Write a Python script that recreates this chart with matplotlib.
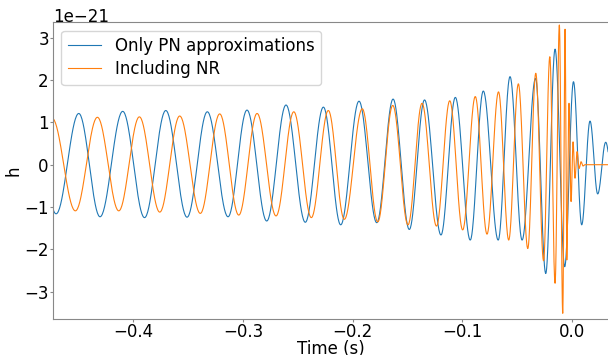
import numpy as np
import matplotlib.pyplot as plt

# extrema of each waveform (time in s, strain in units of 1e-21)
pn_t = [-0.4906, -0.4705, -0.4498, -0.4304, -0.4097, -0.3898, -0.3704, -0.3510,
        -0.3325, -0.3136, -0.2963, -0.2783, -0.2607, -0.2431, -0.2266, -0.2108,
        -0.1941, -0.1779, -0.1630, -0.1482, -0.1343, -0.1193, -0.1062, -0.0926,
        -0.0807, -0.0671, -0.0563, -0.0453, -0.0330, -0.0237, -0.0152, -0.0064,
        0.0016, 0.0091, 0.0167, 0.0237, 0.0310, 0.0377]
pn_h = [1.20, -1.16, 1.21, -1.23, 1.26, -1.25, 1.28, -1.24,
        1.25, -1.23, 1.29, -1.33, 1.41, -1.36, 1.36, -1.42,
        1.50, -1.37, 1.55, -1.53, 1.53, -1.66, 1.59, -1.78,
        1.74, -1.78, 2.08, -1.78, 2.04, -2.57, 2.73, -2.41,
        1.96, -1.42, 1.03, -0.69, 0.53, -0.40]

nr_t = [-0.4933, -0.4742, -0.4529, -0.4328, -0.4133, -0.3945, -0.3759, -0.3577,
        -0.3389, -0.3212, -0.3038, -0.2871, -0.2698, -0.2536, -0.2376, -0.2221,
        -0.2075, -0.1911, -0.1770, -0.1633, -0.1494, -0.1366, -0.1234, -0.1113,
        -0.0995, -0.0880, -0.0773, -0.0668, -0.0575, -0.0487, -0.0401, -0.0328,
        -0.0257, -0.0200, -0.0152, -0.0113, -0.0082, -0.0061, -0.0045, -0.0025,
        -0.0006, 0.0012, 0.0030, 0.0049, 0.0067, 0.0085, 0.0103, 0.0122, 0.0440]
nr_h = [-1.08, 1.10, -1.09, 1.12, -1.09, 1.13, -1.12, 1.15,
        -1.15, 1.20, -1.19, 1.21, -1.21, 1.25, -1.25, 1.28,
        -1.29, 1.32, -1.35, 1.40, -1.42, 1.45, -1.45, 1.51,
        -1.54, 1.61, -1.64, 1.72, -1.78, 1.91, -1.98, 2.16,
        -2.27, 2.55, -2.80, 3.30, -3.51, 3.20, -2.25, 1.45,
        -0.87, 0.54, -0.32, 0.31, -0.09, 0.07, -0.03, 0.0, 0.0]

scale = 1e-21


def wave(tp, hp, n=40):
    # half-cosine swing between each pair of neighbouring extrema
    ts, hs = [], []
    for i in range(len(tp) - 1):
        s = np.linspace(0, 1, n, endpoint=False)
        ts.append(tp[i] + (tp[i + 1] - tp[i]) * s)
        hs.append((hp[i] + hp[i + 1]) / 2 + (hp[i] - hp[i + 1]) / 2 * np.cos(np.pi * s))
    ts.append([tp[-1]])
    hs.append([hp[-1]])
    return np.concatenate(ts), np.concatenate(hs) * scale


plt.rcParams['font.size'] = 12

fig = plt.figure(figsize=(6.08, 3.55), dpi=100)
ax = fig.add_axes([0.0872, 0.1014, 0.9128, 0.8358])

t1, h1 = wave(pn_t, pn_h)
t2, h2 = wave(nr_t, nr_h)
ax.plot(t1, h1, color='#1f77b4', lw=0.8, label='Only PN approximations')
ax.plot(t2, h2, color='#ff7f0e', lw=0.8, label='Including NR')

ax.set_xlim(-0.4733, 0.0331)
ax.set_ylim(-3.645e-21, 3.364e-21)
ax.set_xticks([-0.4, -0.3, -0.2, -0.1, 0.0])
ax.set_xlabel('Time (s)', labelpad=-1)
ax.set_ylabel('h', labelpad=1)

for side in ['left', 'bottom', 'top']:
    ax.spines[side].set_color('#888888')
ax.spines['right'].set_visible(False)
ax.tick_params(colors='#888888', labelcolor='black', length=2, pad=1)
ax.yaxis.OFFSETTEXTPAD = 0

ax.legend(loc='upper left', labelspacing=0.3)

fig.savefig('out.png', dpi=100)
